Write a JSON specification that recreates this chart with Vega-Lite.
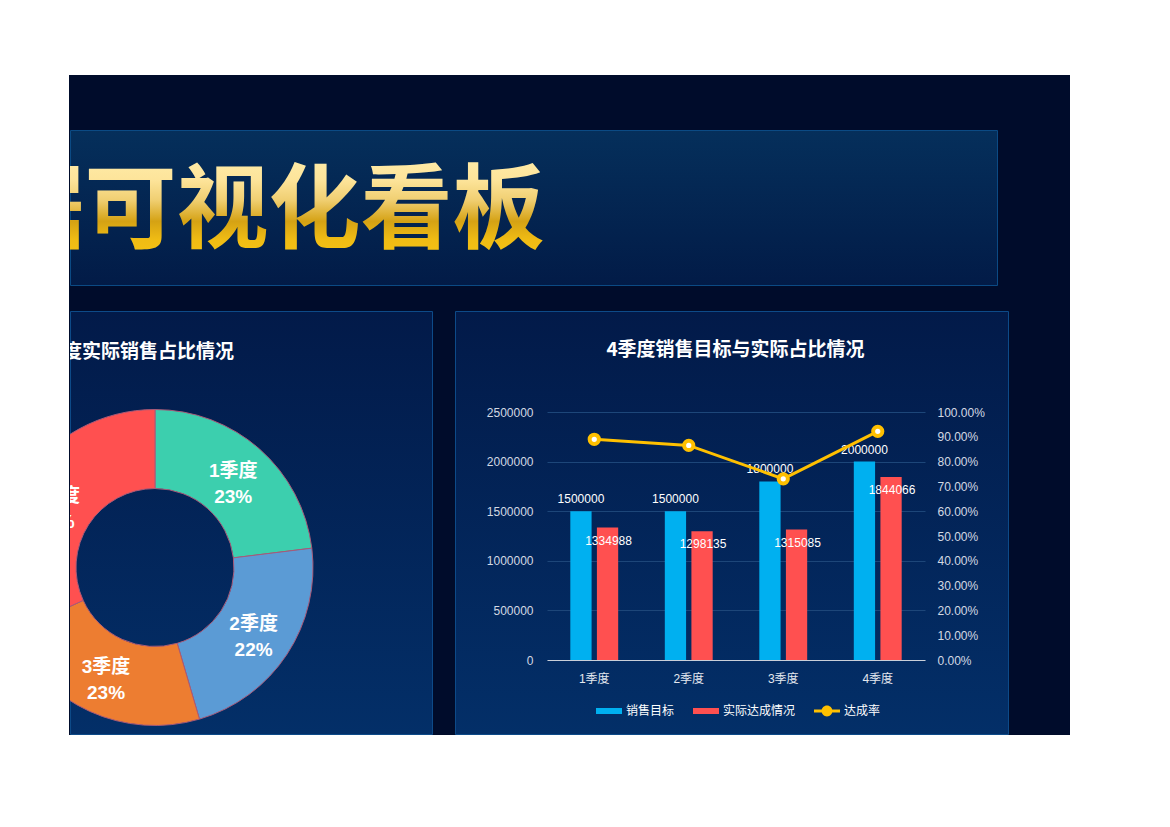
{
  "$schema": "https://vega.github.io/schema/vega-lite/v6.json",
  "padding": 0,
  "autosize": {"type": "pad"},
  "background": "#000c2b",
  "spacing": 0,
  "config": {
    "view": {"stroke": null},
    "font": "Liberation Sans, Noto Sans CJK SC",
    "concat": {"spacing": 0}
  },
  "vconcat": [
    {"width": 1170, "height": 75, "data": {"values": []}, "mark": "point", "view": {"fill": "#ffffff", "stroke": null}},
    {
      "spacing": 0,
      "hconcat": [
        {"width": 69, "height": 660, "data": {"values": []}, "mark": "point", "view": {"fill": "#ffffff", "stroke": null}},
        {
          "spacing": 0,
          "vconcat": [
            {"width": 1000, "height": 54, "data": {"values": []}, "mark": "point"},
            {
              "width": 927,
              "height": 155,
              "view": {
                "fill": {"gradient": "linear", "x1": 0, "y1": 0, "x2": 0, "y2": 1, "stops": [{"offset": 0, "color": "#052f5b"}, {"offset": 1, "color": "#021b47"}]},
                "stroke": "#0b4a84",
                "strokeWidth": 1
              },
              "data": {"values": [{"t": "销售数据可视化看板"}]},
              "mark": {
                "type": "text",
                "align": "right",
                "baseline": "middle",
                "dx": 11,
                "dy": 5,
                "fontSize": 92,
                "fontWeight": "bold",
                "font": "Noto Sans CJK SC",
                "clip": true,
                "fill": {"gradient": "linear", "x1": 0, "y1": 0, "x2": 0, "y2": 1, "stops": [{"offset": 0, "color": "#fff3b8"}, {"offset": 0.35, "color": "#fde49a"}, {"offset": 0.5, "color": "#f0cf72"}, {"offset": 0.66, "color": "#d5a214"}, {"offset": 0.8, "color": "#f0bc14"}, {"offset": 1, "color": "#f7c613"}]}
              },
              "encoding": {"text": {"field": "t", "type": "nominal"}}
            },
            {"width": 1000, "height": 24, "data": {"values": []}, "mark": "point"},
            {
              "spacing": 21,
              "resolve": {"scale": {"color": "independent"}, "legend": {"color": "independent"}},
              "hconcat": [
                {
                  "width": 362,
                  "height": 423,
                  "view": {
                    "fill": {"gradient": "linear", "x1": 0, "y1": 0, "x2": 0, "y2": 1, "stops": [{"offset": 0, "color": "#021a49"}, {"offset": 1, "color": "#032f68"}]},
                    "stroke": "#0d4a88",
                    "strokeWidth": 1
                  },
                  "data": {
                    "values": [
                      {"quarter": "1季度", "actual": 1334988, "pct": "23%"},
                      {"quarter": "2季度", "actual": 1298135, "pct": "22%"},
                      {"quarter": "3季度", "actual": 1315085, "pct": "23%"},
                      {"quarter": "4季度", "actual": 1844066, "pct": "32%"}
                    ]
                  },
                  "layer": [
                    {
                      "mark": {"type": "arc", "outerRadius": 158, "innerRadius": 79, "xOffset": -96, "yOffset": 45, "stroke": "#a85a78", "strokeWidth": 1, "clip": true},
                      "encoding": {
                        "theta": {"field": "actual", "type": "quantitative", "stack": true},
                        "order": {"field": "quarter", "type": "ordinal"},
                        "color": {"field": "quarter", "type": "nominal", "scale": {"domain": ["1季度", "2季度", "3季度", "4季度"], "range": ["#3ccfae", "#5b9bd5", "#ed7d31", "#ff5050"]}, "legend": null}
                      }
                    },
                    {
                      "mark": {"type": "text", "radius": 118, "xOffset": -96, "yOffset": 45, "dy": -8, "fontSize": 19, "fontWeight": "bold", "fill": "#ffffff", "clip": true},
                      "encoding": {
                        "theta": {"field": "actual", "type": "quantitative", "stack": true},
                        "order": {"field": "quarter", "type": "ordinal"},
                        "text": {"field": "quarter", "type": "nominal"}
                      }
                    },
                    {
                      "mark": {"type": "text", "radius": 118, "xOffset": -96, "yOffset": 45, "dy": 18, "fontSize": 19, "fontWeight": "bold", "fill": "#ffffff", "clip": true},
                      "encoding": {
                        "theta": {"field": "actual", "type": "quantitative", "stack": true},
                        "order": {"field": "quarter", "type": "ordinal"},
                        "text": {"field": "pct", "type": "nominal"}
                      }
                    },
                    {
                      "data": {"values": [{"t": "4季度实际销售占比情况"}]},
                      "mark": {"type": "text", "align": "right", "baseline": "middle", "dx": -17, "dy": -170.5, "fontSize": 19, "fontWeight": "bold", "font": "Noto Sans CJK SC", "fill": "#ffffff", "clip": true},
                      "encoding": {"text": {"field": "t", "type": "nominal"}}
                    }
                  ]
                },
                {
                  "width": 553,
                  "height": 423,
                  "view": {
                    "fill": {"gradient": "linear", "x1": 0, "y1": 0, "x2": 0, "y2": 1, "stops": [{"offset": 0, "color": "#021a49"}, {"offset": 1, "color": "#032f68"}]},
                    "stroke": "#0d4a88",
                    "strokeWidth": 1
                  },
                  "layer": [
                    {
                      "data": {
                        "values": [
                          {"quarter": "1季度", "series": "销售目标", "value": 1500000},
                          {"quarter": "1季度", "series": "实际达成情况", "value": 1334988},
                          {"quarter": "2季度", "series": "销售目标", "value": 1500000},
                          {"quarter": "2季度", "series": "实际达成情况", "value": 1298135},
                          {"quarter": "3季度", "series": "销售目标", "value": 1800000},
                          {"quarter": "3季度", "series": "实际达成情况", "value": 1315085},
                          {"quarter": "4季度", "series": "销售目标", "value": 2000000},
                          {"quarter": "4季度", "series": "实际达成情况", "value": 1844066}
                        ]
                      },
                      "encoding": {
                        "x": {
                          "field": "quarter", "type": "nominal",
                          "scale": {"domain": ["1季度", "2季度", "3季度", "4季度"], "range": [92, 470], "paddingInner": 0, "paddingOuter": 0},
                          "axis": {"orient": "bottom", "offset": -74, "domainColor": "#c9cfd9", "domainWidth": 1, "ticks": false, "labelPadding": 13, "labelColor": "#e4e8ef", "labelFontSize": 12, "labelAngle": 0, "title": null, "grid": false}
                        },
                        "xOffset": {"field": "series", "type": "nominal", "sort": ["销售目标", "实际达成情况"], "scale": {"domain": ["销售目标", "实际达成情况"], "paddingInner": 0.2, "paddingOuter": 0.876}},
                        "y": {
                          "field": "value", "type": "quantitative",
                          "scale": {"domain": [0, 2500000], "range": [349, 101], "nice": false, "zero": true},
                          "axis": {"offset": -92, "domain": false, "ticks": false, "grid": true, "gridColor": "#1d4679", "gridWidth": 1, "values": [0, 500000, 1000000, 1500000, 2000000, 2500000], "format": "d", "labelPadding": 14, "labelColor": "#d3d9e3", "labelFontSize": 12, "title": null}
                        }
                      },
                      "layer": [
                        {
                          "mark": {"type": "bar"},
                          "encoding": {
                            "color": {
                              "field": "series", "type": "nominal",
                              "scale": {"domain": ["销售目标", "实际达成情况", "达成率"], "range": ["#00b0f0", "#ff5050", "#ffc000"]},
                              "legend": {
                                "orient": "none", "legendX": 141, "legendY": 387, "direction": "horizontal", "title": null,
                                "labelColor": "#ffffff", "labelFontSize": 12, "labelFont": "Noto Sans CJK SC", "labelOffset": 4, "columnPadding": 18, "padding": 0,
                                "symbolSize": 676, "symbolStrokeWidth": 0, "symbolOpacity": 1,
                                "encode": {
                                  "symbols": {
                                    "update": {
                                      "shape": {"signal": "datum.value === '达成率' ? 'M-1,-0.12H-0.4V0.12H-1Z M0.4,-0.12H1V0.12H0.4Z M-0.42,0A0.42,0.42,0,1,1,0.42,0A0.42,0.42,0,1,1,-0.42,0Z' : 'M-1,-0.23H1V0.23H-1Z'"}
                                    }
                                  }
                                }
                              }
                            }
                          }
                        },
                        {
                          "transform": [{"filter": "datum.series === '销售目标'"}],
                          "mark": {"type": "text", "baseline": "middle", "dy": -12, "fontSize": 12, "fill": "#ffffff"},
                          "encoding": {"text": {"field": "value", "type": "quantitative", "format": "d"}}
                        },
                        {
                          "transform": [{"filter": "datum.series === '实际达成情况'"}],
                          "mark": {"type": "text", "baseline": "middle", "dy": 13, "dx": 1, "fontSize": 12, "fill": "#ffffff"},
                          "encoding": {"text": {"field": "value", "type": "quantitative", "format": "d"}}
                        }
                      ]
                    },
                    {
                      "data": {
                        "values": [
                          {"quarter": "1季度", "rate": 0.8900},
                          {"quarter": "2季度", "rate": 0.8654},
                          {"quarter": "3季度", "rate": 0.7306},
                          {"quarter": "4季度", "rate": 0.9220}
                        ]
                      },
                      "encoding": {
                        "x": {
                          "field": "quarter", "type": "nominal",
                          "scale": {"domain": ["1季度", "2季度", "3季度", "4季度"], "range": [92, 470], "paddingInner": 0, "paddingOuter": 0},
                          "axis": {"orient": "bottom", "offset": -74, "domainColor": "#c9cfd9", "domainWidth": 1, "ticks": false, "labelPadding": 13, "labelColor": "#e4e8ef", "labelFontSize": 12, "labelAngle": 0, "title": null, "grid": false}
                        },
                        "y": {
                          "field": "rate", "type": "quantitative",
                          "scale": {"domain": [0, 1], "range": [349, 101], "nice": false},
                          "axis": {"orient": "right", "offset": -83, "format": ".2%", "values": [0, 0.1, 0.2, 0.3, 0.4, 0.5, 0.6, 0.7, 0.8, 0.9, 1], "grid": false, "domain": false, "ticks": false, "labelPadding": 12, "labelColor": "#d3d9e3", "labelFontSize": 12, "title": null}
                        }
                      },
                      "layer": [
                        {"mark": {"type": "line", "stroke": "#ffc000", "strokeWidth": 3}},
                        {"mark": {"type": "point", "filled": true, "fill": "#ffffff", "stroke": "#ffc000", "strokeWidth": 4, "size": 85, "opacity": 1}}
                      ]
                    },
                    {
                      "data": {"values": [{"t": "4季度销售目标与实际占比情况"}]},
                      "mark": {"type": "text", "align": "center", "baseline": "middle", "dx": 4, "dy": -172.5, "fontSize": 19, "fontWeight": "bold", "font": "Noto Sans CJK SC", "fill": "#ffffff"},
                      "encoding": {"text": {"field": "t", "type": "nominal"}}
                    }
                  ],
                  "resolve": {"scale": {"y": "independent"}, "axis": {"y": "independent"}}
                }
              ]
            }
          ]
        },
        {"width": 101, "height": 660, "data": {"values": []}, "mark": "point", "view": {"fill": "#ffffff", "stroke": null}}
      ]
    },
    {"width": 1170, "height": 92, "data": {"values": []}, "mark": "point", "view": {"fill": "#ffffff", "stroke": null}}
  ]
}
